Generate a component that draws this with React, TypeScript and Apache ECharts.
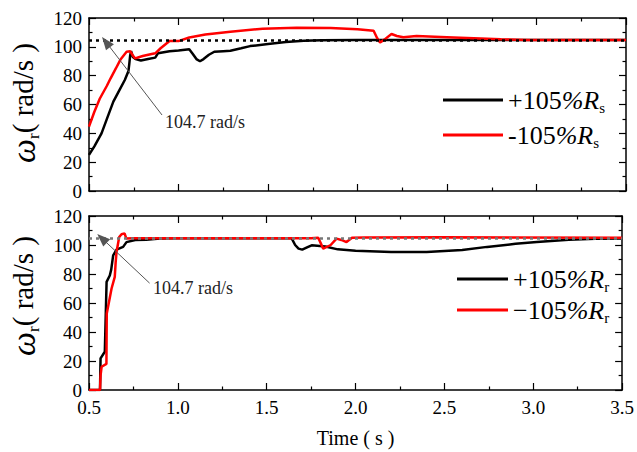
import React, { useEffect, useRef } from "react";
import * as echarts from "echarts";

const SERIF = "Liberation Serif";

const topBlackTime = [0.5, 0.53, 0.57, 0.6, 0.636, 0.67, 0.7, 0.72, 0.725, 0.73, 0.735, 0.745, 0.76, 0.79, 0.83, 0.87, 0.885, 0.95, 1.0, 1.06, 1.08, 1.1, 1.12, 1.14, 1.17, 1.2, 1.25, 1.29, 1.35, 1.4, 1.5, 1.6, 1.7, 1.8, 2.0, 3.5];
const topBlackSpeed = [25, 31, 40, 50, 62, 70, 77, 83, 88, 94, 97, 93, 91.5, 90.5, 91.5, 92.5, 95.5, 97, 97.5, 98.3, 95, 91.5, 90, 91.5, 94.5, 96.6, 97, 97.3, 99, 100.5, 102, 103.3, 104.2, 104.6, 104.7, 104.7];

const topRedTime = [0.5, 0.53, 0.56, 0.6, 0.62, 0.65, 0.675, 0.71, 0.73, 0.745, 0.757, 0.8, 0.85, 0.87, 0.9, 0.95, 1.0, 1.06, 1.15, 1.29, 1.47, 1.66, 1.85, 2.0, 2.09, 2.11, 2.126, 2.15, 2.19, 2.22, 2.256, 2.33, 2.5, 2.65, 2.8, 2.95, 3.5];
const topRedSpeed = [44.6, 55, 64, 73, 78, 85, 91, 96.6, 97, 94, 92, 93.6, 95, 95.5, 99, 104, 104, 106.5, 108.5, 110.5, 112.6, 113.3, 113, 112.2, 111.2, 106, 103, 105, 108.9, 107.5, 106.6, 107.5, 106.7, 106, 105.2, 104.7, 104.7];

const bottomBlackTime = [0.5, 0.562, 0.565, 0.589, 0.599, 0.617, 0.625, 0.636, 0.655, 0.692, 0.711, 0.76, 0.822, 0.9, 1.0, 1.64, 1.66, 1.679, 1.7, 1.73, 1.753, 1.83, 1.9, 2.0, 2.2, 2.4, 2.6, 2.74, 2.9, 3.02, 3.2, 3.35, 3.5];
const bottomBlackSpeed = [0, 0, 21.8, 26.4, 74.6, 79, 83, 92.9, 96.8, 98.7, 102, 103.5, 103.7, 104.5, 104.7, 104.7, 100, 97.5, 96.8, 98.5, 99.8, 99, 97, 96, 95.2, 95.2, 96.5, 98.7, 100.8, 102, 103.7, 104.3, 104.5];

const bottomRedTime = [0.5, 0.562, 0.565, 0.571, 0.598, 0.6, 0.627, 0.645, 0.65, 0.655, 0.67, 0.683, 0.7, 0.71, 0.75, 1.75, 1.79, 1.818, 1.86, 1.893, 1.92, 1.949, 1.98, 2.05, 2.5, 3.5];
const bottomRedSpeed = [0, 0, 10, 16, 18, 52.7, 70, 78, 88, 95.2, 105.5, 107.4, 108, 104.5, 104.7, 104.7, 105, 97.5, 100, 104.4, 103.5, 102, 105, 105.2, 105.3, 105];

const ratedSpeed = 104.7;
const xRange = [0.5, 3.5];
const yRange = [0, 120];
const topArrow = [[0.908, 52.7], [0.595, 103.3]];
const bottomArrow = [[0.841, 73.7], [0.573, 104.6]];

const zip = (t: number[], v: number[]) => t.map((x, i) => [x, v[i]]);

const legendRich = {
  n: { fontFamily: SERIF, fontSize: 26, color: "#000", lineHeight: 26 },
  i: { fontFamily: SERIF, fontSize: 26, fontStyle: "italic", color: "#000", lineHeight: 26 },
  s: { fontFamily: SERIF, fontSize: 15, color: "#000", lineHeight: 26, verticalAlign: "bottom", padding: [0, 0, -2, 0] },
};

const legendNames: Record<string, string> = {
  "+105%Rs": "{n|+105}{i|%R}{s|s}",
  "-105%Rs": "{n|-105}{i|%R}{s|s}",
  "+105%Rr": "{n|+105}{i|%R}{s|r}",
  "−105%Rr": "{n|−105}{i|%R}{s|r}",
};

function xAxisDef(gridIndex: number, position: string, showLabels: boolean, extra: any = {}) {
  return {
    type: "value",
    gridIndex,
    position,
    min: xRange[0],
    max: xRange[1],
    interval: 0.5,
    axisLine: { show: true, onZero: false, lineStyle: { color: "#000", width: 1.5 } },
    axisTick: { show: true, inside: true, length: 7, lineStyle: { color: "#000", width: 1.2 } },
    minorTick: { show: true, splitNumber: 2, length: 3.5, lineStyle: { color: "#000", width: 1.2 } },
    splitLine: { show: false },
    axisLabel: {
      show: showLabels,
      fontFamily: SERIF,
      fontSize: 19,
      color: "#000",
      margin: 8,
      formatter: (v: number) => v.toFixed(1),
    },
    ...extra,
  };
}

function yAxisDef(gridIndex: number, position: string, showLabels: boolean) {
  return {
    type: "value",
    gridIndex,
    position,
    min: yRange[0],
    max: yRange[1],
    interval: 20,
    axisLine: { show: true, onZero: false, lineStyle: { color: "#000", width: 1.5 } },
    axisTick: { show: true, inside: true, length: 7, lineStyle: { color: "#000", width: 1.2 } },
    minorTick: { show: true, splitNumber: 2, length: 3.5, lineStyle: { color: "#000", width: 1.2 } },
    splitLine: { show: false },
    axisLabel: { show: showLabels, fontFamily: SERIF, fontSize: 19, color: "#000", margin: 7 },
  };
}

function arrowLine(pts: number[][]) {
  return [
    { coord: pts[0], symbol: "none", lineStyle: { color: "#555", width: 1, type: "solid" } },
    { coord: pts[1], symbol: "triangle", symbolSize: [10, 13] },
  ];
}

const yNameRich = {
  w: { fontFamily: SERIF, fontSize: 34, fontStyle: "italic", color: "#000", lineHeight: 32 },
  s: { fontFamily: SERIF, fontSize: 17, color: "#000", lineHeight: 32, verticalAlign: "bottom", padding: [0, 0, -3, 0] },
  t: { fontFamily: SERIF, fontSize: 29, color: "#000", lineHeight: 32 },
};

export default function App() {
  const ref = useRef<HTMLDivElement>(null);
  useEffect(() => {
    if (!ref.current) return;
    const chart = echarts.init(ref.current, null, { renderer: "svg" });
    chart.setOption({
      animation: false,
      backgroundColor: "#fff",
      textStyle: { fontFamily: SERIF },
      grid: [
        { left: 89, top: 18, width: 537, height: 173 },
        { left: 89, top: 216, width: 537, height: 174 },
      ],
      xAxis: [
        xAxisDef(0, "bottom", false),
        xAxisDef(0, "top", false),
        xAxisDef(1, "bottom", true, {
          name: "Time ( s )",
          nameLocation: "middle",
          nameGap: 38,
          nameTextStyle: { fontFamily: SERIF, fontSize: 20, color: "#000" },
        }),
        xAxisDef(1, "top", false),
      ],
      yAxis: [
        yAxisDef(0, "left", true),
        yAxisDef(0, "right", false),
        yAxisDef(1, "left", true),
        yAxisDef(1, "right", false),
      ],
      legend: [
        {
          data: ["+105%Rs", "-105%Rs"],
          orient: "vertical",
          left: 443,
          top: 87,
          padding: 0,
          itemGap: 7,
          itemWidth: 60,
          itemHeight: 3,
          icon: "rect",
          formatter: (n: string) => legendNames[n],
          textStyle: { fontFamily: SERIF, rich: legendRich },
        },
        {
          data: ["+105%Rr", "−105%Rr"],
          orient: "vertical",
          left: 457,
          top: 266,
          padding: 0,
          itemGap: 3,
          itemWidth: 51,
          itemHeight: 3,
          icon: "rect",
          formatter: (n: string) => legendNames[n],
          textStyle: { fontFamily: SERIF, rich: legendRich },
        },
      ],
      graphic: [
        {
          type: "text",
          x: 23,
          y: 103,
          rotation: Math.PI / 2,
          style: { text: "{w|ω}{s|r}{t|( rad/s )}", rich: yNameRich, fontFamily: SERIF, align: "center", verticalAlign: "middle" },
        },
        {
          type: "text",
          x: 23,
          y: 296,
          rotation: Math.PI / 2,
          style: { text: "{w|ω}{s|r}{t|( rad/s )}", rich: yNameRich, fontFamily: SERIF, align: "center", verticalAlign: "middle" },
        },
        {
          type: "text",
          x: 165,
          y: 122,
          style: { text: "104.7 rad/s", fontFamily: SERIF, fontSize: 18, fill: "#222", verticalAlign: "middle" },
        },
        {
          type: "text",
          x: 153,
          y: 288,
          style: { text: "104.7 rad/s", fontFamily: SERIF, fontSize: 18, fill: "#222", verticalAlign: "middle" },
        },
      ],
      series: [
        {
          name: "+105%Rs",
          type: "line",
          xAxisIndex: 0,
          yAxisIndex: 0,
          data: zip(topBlackTime, topBlackSpeed),
          showSymbol: false,
          symbol: "none",
          color: "#000",
          lineStyle: { color: "#000", width: 2.5 },
        },
        {
          name: "-105%Rs",
          type: "line",
          xAxisIndex: 0,
          yAxisIndex: 0,
          data: zip(topRedTime, topRedSpeed),
          showSymbol: false,
          symbol: "none",
          color: "#ff0000",
          lineStyle: { color: "#ff0000", width: 2.5 },
          markLine: {
            silent: true,
            symbol: "none",
            label: { show: false },
            z: 5,
            data: [
              { yAxis: ratedSpeed, lineStyle: { type: [3, 4], color: "#000", width: 2.5 } },
              arrowLine(topArrow),
            ],
          },
        },
        {
          name: "+105%Rr",
          type: "line",
          xAxisIndex: 2,
          yAxisIndex: 2,
          data: zip(bottomBlackTime, bottomBlackSpeed),
          showSymbol: false,
          symbol: "none",
          color: "#000",
          lineStyle: { color: "#000", width: 2.5 },
        },
        {
          name: "−105%Rr",
          type: "line",
          xAxisIndex: 2,
          yAxisIndex: 2,
          data: zip(bottomRedTime, bottomRedSpeed),
          showSymbol: false,
          symbol: "none",
          color: "#ff0000",
          lineStyle: { color: "#ff0000", width: 2.5 },
          markLine: {
            silent: true,
            symbol: "none",
            label: { show: false },
            z: 5,
            data: [
              { yAxis: ratedSpeed, lineStyle: { type: [3, 4], color: "#777", width: 2.5 } },
              arrowLine(bottomArrow),
            ],
          },
        },
      ],
    });
    return () => chart.dispose();
  }, []);
  return (
    <div
      ref={ref}
      style={{ position: "fixed", left: 0, top: 0, width: 637, height: 452, background: "#fff" }}
    />
  );
}
